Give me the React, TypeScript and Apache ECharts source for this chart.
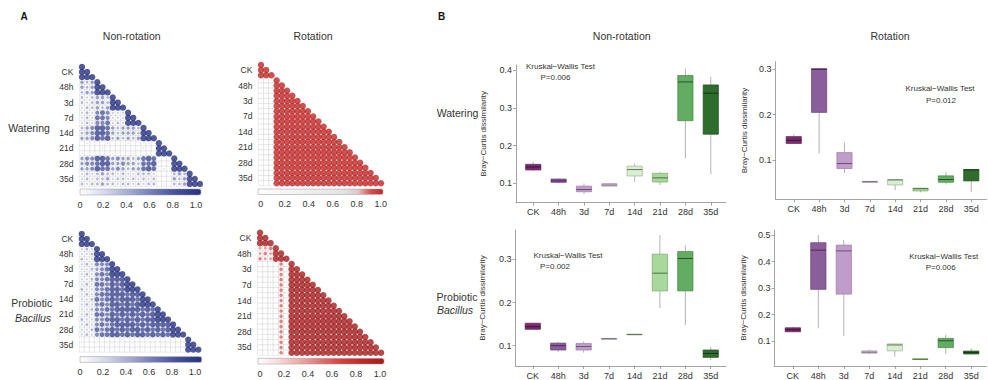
import React, { useEffect, useRef } from "react";
import * as echarts from "echarts";

// ---------- DATA ----------
const groups = ["CK", "48h", "3d", "7d", "14d", "21d", "28d", "35d"];
// 24 samples (3 replicates per group); label shown on the middle replicate
const sampleLabels = ["", "CK", "", "", "48h", "", "", "3d", "", "", "7d", "", "", "14d", "", "", "21d", "", "", "28d", "", "", "35d", ""];
const colorbarTicks = [0, 0.2, 0.4, 0.6, 0.8, 1.0];

// Panel A: lower-triangle similarity matrices, one string per row, digit d = value d/9 (spaces only for readability)
const corrNonRotWatering = [
  "9",
  "99",
  "999",
  "545 9",
  "545 99",
  "455 999",
  "434 554 9",
  "434 554 99",
  "344 545 999",
  "343 676 333 9",
  "343 776 333 99",
  "343 667 343 999",
  "456 887 545 554 9",
  "456 887 545 554 99",
  "556 878 454 545 999",
  "121 112 111 211 121 9",
  "111 121 112 111 211 99",
  "211 111 211 121 111 999",
  "566 887 565 545 787 111 9",
  "566 788 556 554 778 111 99",
  "556 877 565 455 787 121 999",
  "343 454 434 334 443 111 454 9",
  "343 445 344 343 434 111 545 99",
  "434 454 434 434 344 121 445 999",
];
const corrRotWatering = [
  "9",
  "99",
  "999",
  "223 9",
  "223 99",
  "233 999",
  "112 999 9",
  "112 999 99",
  "112 999 999",
  "111 999 999 9",
  "112 999 999 99",
  "112 999 999 999",
  "112 999 999 999 9",
  "111 999 999 999 99",
  "112 999 999 999 999",
  "112 999 999 999 999 9",
  "112 999 999 999 999 99",
  "111 999 999 999 999 999",
  "112 999 999 999 999 999 9",
  "112 999 999 999 999 999 99",
  "111 999 999 999 999 999 999",
  "112 999 999 999 999 999 999 9",
  "112 999 999 999 999 999 999 99",
  "111 999 999 999 999 999 999 999",
];
const corrNonRotBacillus = [
  "9",
  "99",
  "999",
  "343 9",
  "334 99",
  "433 999",
  "343 666 9",
  "334 567 99",
  "343 676 999",
  "334 667 888 9",
  "343 776 878 99",
  "433 667 887 999",
  "343 677 888 788 9",
  "334 767 878 887 99",
  "343 676 887 878 999",
  "334 667 788 888 787 9",
  "343 776 878 787 878 99",
  "433 667 887 878 788 999",
  "343 676 788 887 878 888 9",
  "334 767 878 788 787 878 99",
  "343 677 887 878 878 787 999",
  "111 111 111 111 111 111 111 9",
  "111 111 111 111 111 111 111 99",
  "111 111 111 111 111 111 111 999",
];
const corrRotBacillus = [
  "9",
  "99",
  "999",
  "445 9",
  "454 99",
  "544 999",
  "111 151 9",
  "111 151 99",
  "111 151 999",
  "111 151 999 9",
  "111 151 999 99",
  "111 151 999 999",
  "111 151 999 999 9",
  "111 151 999 999 99",
  "111 151 999 999 999",
  "111 151 999 999 999 9",
  "111 151 999 999 999 99",
  "111 151 999 999 999 999",
  "111 151 999 999 999 999 9",
  "111 151 999 999 999 999 99",
  "111 151 999 999 999 999 999",
  "111 151 999 999 999 999 999 9",
  "111 151 999 999 999 999 999 99",
  "111 151 999 999 999 999 999 999",
];

// Panel B: Bray-Curtis dissimilarity box stats [min, q1, median, q3, max] per group
const bcNonRotWatering = [
  [0.132, 0.135, 0.143, 0.150, 0.157],
  [0.100, 0.102, 0.106, 0.111, 0.113],
  [0.071, 0.077, 0.083, 0.092, 0.099],
  [0.091, 0.092, 0.095, 0.099, 0.100],
  [0.103, 0.119, 0.136, 0.145, 0.152],
  [0.095, 0.103, 0.114, 0.126, 0.130],
  [0.166, 0.266, 0.369, 0.386, 0.405],
  [0.124, 0.230, 0.339, 0.361, 0.383],
];
const bcRotWatering = [
  [0.136, 0.137, 0.144, 0.152, 0.157],
  [0.115, 0.205, 0.299, 0.301, 0.301],
  [0.072, 0.082, 0.093, 0.117, 0.139],
  [0.052, 0.052, 0.053, 0.054, 0.054],
  [0.035, 0.046, 0.057, 0.058, 0.058],
  [0.030, 0.033, 0.038, 0.039, 0.039],
  [0.047, 0.052, 0.058, 0.066, 0.074],
  [0.031, 0.055, 0.079, 0.080, 0.081],
];
const bcNonRotBacillus = [
  [0.137, 0.138, 0.144, 0.152, 0.153],
  [0.086, 0.090, 0.100, 0.106, 0.109],
  [0.084, 0.090, 0.098, 0.105, 0.110],
  [0.115, 0.115, 0.116, 0.117, 0.117],
  [0.125, 0.125, 0.126, 0.127, 0.127],
  [0.187, 0.227, 0.268, 0.312, 0.356],
  [0.148, 0.227, 0.302, 0.318, 0.333],
  [0.067, 0.073, 0.082, 0.090, 0.097],
];
const bcRotBacillus = [
  [0.133, 0.135, 0.142, 0.150, 0.153],
  [0.148, 0.295, 0.443, 0.471, 0.500],
  [0.119, 0.277, 0.440, 0.462, 0.481],
  [0.050, 0.054, 0.058, 0.063, 0.068],
  [0.041, 0.063, 0.085, 0.089, 0.090],
  [0.030, 0.030, 0.031, 0.033, 0.033],
  [0.051, 0.075, 0.101, 0.110, 0.123],
  [0.050, 0.051, 0.057, 0.062, 0.072],
];
const ticksNonRotWatering = [0.1, 0.2, 0.3, 0.4];
const ticksRotWatering = [0.1, 0.2, 0.3];
const ticksNonRotBacillus = [0.1, 0.2, 0.3];
const ticksRotBacillus = [0.1, 0.2, 0.3, 0.4, 0.5];

const kruskalNonRotWatering = "P=0.006";
const kruskalRotWatering = "P=0.012";
const kruskalNonRotBacillus = "P=0.002";
const kruskalRotBacillus = "P=0.006";

// ---------- STYLE ----------
const FONT = "'Liberation Sans', Arial, Helvetica, sans-serif";
const TXT = "#333";
const bluePalette = ["#ffffff", "#d6d9ec", "#a6acd2", "#737cb6", "#454f99", "#263180"];
const redSteepPalette = ["#ffffff", "#fbfbfb", "#f6f6f6", "#f2f2f2", "#eeeeee", "#eaeaea", "#e6e6e6", "#e3e0e0", "#e4c4c4", "#d85050", "#bf2626"];
const redPalette = ["#ffffff", "#f8d8d8", "#efa8a8", "#e27070", "#d44040", "#c02828", "#a41c1c"];
const boxFill = ["#7b2c6f", "#8a5d9b", "#c09ccb", "#e2d3e6", "#d9efd1", "#a9d89c", "#62ad62", "#2f6d2c"];
const boxStroke = ["#5a1f50", "#6a4178", "#9a7aa4", "#a89aaa", "#9ab592", "#76a86a", "#3f833f", "#1f4a1d"];
const boxMedian = ["#3d1236", "#4a2a55", "#6b4e74", "#6f6372", "#5f7a58", "#4b7542", "#24542a", "#16341a"];

function triangle(rows: string[]) {
  const out: number[][] = [];
  rows.forEach((raw, r) => {
    const row = raw.replace(/\s/g, "");
    for (let c = 0; c <= r; c++) {
      const ch = row.charAt(c);
      out.push([c, r, ch ? Number(ch) / 9 : 0]);
    }
  });
  return out;
}

const corrPanels = [
  { rows: corrNonRotWatering, palette: bluePalette, grid: { left: 79.4, top: 64.4, width: 123.1, height: 122.1 }, bar: { left: 80, top: 189, len: 121, thick: 6 }, axis: { left: 80, width: 116 } },
  { rows: corrRotWatering, palette: redSteepPalette, grid: { left: 258.4, top: 62.4, width: 125.2, height: 123.4 }, bar: { left: 258, top: 189, len: 125, thick: 5.5 }, axis: { left: 260.7, width: 120 } },
  { rows: corrNonRotBacillus, palette: bluePalette, grid: { left: 79.2, top: 231.5, width: 121.7, height: 120.7 }, bar: { left: 80, top: 356.6, len: 121.7, thick: 5.8 }, axis: { left: 80, width: 115 } },
  { rows: corrRotBacillus, palette: redPalette, grid: { left: 257.4, top: 230.1, width: 126.3, height: 125.2 }, bar: { left: 258, top: 358.3, len: 126, thick: 5.8 }, axis: { left: 260, width: 120 } },
];

const boxPanels = [
  { stats: bcNonRotWatering, ticks: ticksNonRotWatering, min: 0.048, max: 0.414, xMin: -0.68, grid: { left: 516, top: 65, width: 210, height: 137.7 }, nameGap: 29 },
  { stats: bcRotWatering, ticks: ticksRotWatering, min: 0.0147, max: 0.316, xMin: -0.72, grid: { left: 775.5, top: 61.7, width: 211, height: 137.6 }, nameGap: 27 },
  { stats: bcNonRotBacillus, ticks: ticksNonRotBacillus, min: 0.053, max: 0.368, xMin: -0.68, grid: { left: 515.5, top: 230, width: 210.5, height: 136 }, nameGap: 29 },
  { stats: bcRotBacillus, ticks: ticksRotBacillus, min: 0.0057, max: 0.519, xMin: -0.72, grid: { left: 774.5, top: 230, width: 212, height: 136 }, nameGap: 27 },
];

function renderBox(params: any, api: any) {
  const i = api.value(0);
  const lo = api.coord([i, api.value(1)]);
  const q1 = api.coord([i, api.value(2)]);
  const med = api.coord([i, api.value(3)]);
  const q3 = api.coord([i, api.value(4)]);
  const hi = api.coord([i, api.value(5)]);
  const w = api.size([0.6, 0])[0];
  const x = lo[0];
  const k = Math.round(i);
  return {
    type: "group",
    children: [
      { type: "line", shape: { x1: x, y1: hi[1], x2: x, y2: q3[1] }, style: { stroke: "#a0a0a0", lineWidth: 0.8 } },
      { type: "line", shape: { x1: x, y1: q1[1], x2: x, y2: lo[1] }, style: { stroke: "#a0a0a0", lineWidth: 0.8 } },
      { type: "rect", shape: { x: x - w / 2, y: q3[1], width: w, height: Math.max(q1[1] - q3[1], 0.8) }, style: { fill: boxFill[k], stroke: boxStroke[k], lineWidth: 0.7 } },
      { type: "line", shape: { x1: x - w / 2, y1: med[1], x2: x + w / 2, y2: med[1] }, style: { stroke: boxMedian[k], lineWidth: 1 } },
    ],
  };
}

function txt(text: string, x: number, y: number, size: number, extra: any = {}) {
  return {
    type: "text",
    x,
    y,
    silent: true,
    style: {
      text,
      fontSize: size,
      fontFamily: FONT,
      fill: TXT,
      align: "center",
      textAlign: "center",
      verticalAlign: "middle",
      textVerticalAlign: "middle",
      ...extra,
    },
  };
}

function buildOption() {
  const option: any = {
    animation: false,
    backgroundColor: "#ffffff",
    textStyle: { fontFamily: FONT },
    grid: [],
    xAxis: [],
    yAxis: [],
    series: [],
    visualMap: [],
    graphic: [],
  };

  corrPanels.forEach((p) => {
    const gi = option.grid.length;
    option.grid.push({ ...p.grid });
    option.xAxis.push({ type: "category", gridIndex: gi, data: sampleLabels.map((_, k) => String(k)), show: false });
    option.yAxis.push({
      type: "category",
      gridIndex: gi,
      data: sampleLabels,
      inverse: true,
      axisLine: { show: false },
      axisTick: { show: false },
      splitLine: { show: false },
      axisLabel: { interval: 0, fontSize: 8.5, color: TXT, margin: 6, fontFamily: FONT },
    });
    const cw = p.grid.width / 24;
    const ch = p.grid.height / 24;
    const tri = triangle(p.rows);
    option.series.push({
      type: "scatter",
      xAxisIndex: gi,
      yAxisIndex: gi,
      symbol: "rect",
      symbolSize: [cw, ch],
      itemStyle: { color: "#ffffff", borderColor: "#d2d2d2", borderWidth: 0.5 },
      data: tri.map((d) => [d[0], d[1]]),
      silent: true,
      z: 1,
    });
    const si = option.series.length;
    option.series.push({
      type: "scatter",
      xAxisIndex: gi,
      yAxisIndex: gi,
      symbol: "circle",
      symbolSize: (v: number[]) => Math.max(0.6, v[2] * cw * 1.22),
      data: tri,
      silent: true,
      z: 2,
    });
    option.visualMap.push({
      type: "continuous",
      seriesIndex: si,
      dimension: 2,
      min: 0,
      max: 1,
      orient: "horizontal",
      left: p.bar.left,
      top: p.bar.top,
      itemHeight: p.bar.len,
      itemWidth: p.bar.thick,
      calculable: false,
      hoverLink: false,
      padding: 0,
      inRange: { color: p.palette },
    });
    option.graphic.push({
      type: "rect",
      silent: true,
      z: 100,
      shape: { x: p.bar.left, y: p.bar.top, width: p.bar.len, height: p.bar.thick },
      style: { fill: "none", stroke: "#9a9a9a", lineWidth: 0.5 },
    });
    const cg = option.grid.length;
    option.grid.push({ left: p.axis.left, width: p.axis.width, top: p.bar.top, height: p.bar.thick });
    option.xAxis.push({
      type: "value",
      gridIndex: cg,
      min: 0,
      max: 1,
      axisLine: { show: false },
      splitLine: { show: false },
      axisTick: { show: false },
      axisLabel: {
        customValues: colorbarTicks,
        fontSize: 9,
        color: TXT,
        margin: 5,
        fontFamily: FONT,
        formatter: (v: number) => (v === 0 ? "0" : v.toFixed(1)),
      },
    });
    option.yAxis.push({ type: "value", gridIndex: cg, show: false, min: 0, max: 1 });
  });

  boxPanels.forEach((p) => {
    const gi = option.grid.length;
    option.grid.push({ ...p.grid });
    option.xAxis.push({
      type: "value",
      gridIndex: gi,
      min: p.xMin,
      max: 7.6,
      axisLine: { show: true, onZero: false, lineStyle: { color: "#8e8e8e", width: 0.8 } },
      axisTick: { show: true, length: 3, customValues: groups.map((_, k) => k), lineStyle: { color: "#8e8e8e", width: 0.8 } },
      axisLabel: { customValues: groups.map((_, k) => k), formatter: (v: number) => groups[Math.round(v)] ?? "", fontSize: 9, color: TXT, margin: 5, fontFamily: FONT },
      splitLine: { show: false },
    });
    option.yAxis.push({
      type: "value",
      gridIndex: gi,
      min: p.min,
      max: p.max,
      axisLine: { show: true, onZero: false, lineStyle: { color: "#8e8e8e", width: 0.8 } },
      axisTick: { show: true, length: 3, customValues: p.ticks, lineStyle: { color: "#8e8e8e", width: 0.8 } },
      axisLabel: { customValues: p.ticks, fontSize: 9, color: TXT, margin: 4, fontFamily: FONT },
      splitLine: { show: false },
      name: "Bray\u2212Curtis dissimilarity",
      nameLocation: "middle",
      nameGap: p.nameGap,
      nameTextStyle: { fontSize: 8, color: TXT, fontFamily: FONT },
    });
    option.series.push({
      type: "custom",
      xAxisIndex: gi,
      yAxisIndex: gi,
      renderItem: renderBox,
      encode: { x: 0, y: [1, 2, 3, 4, 5] },
      data: p.stats.map((s, k) => [k, ...s]),
      silent: true,
      clip: false,
    });
  });

  option.graphic.push(
    txt("A", 24, 16.5, 10, { fontWeight: "bold", fill: "#111" }),
    txt("B", 441.5, 16.5, 10, { fontWeight: "bold", fill: "#111" }),
    txt("Non-rotation", 131.7, 36, 10.5),
    txt("Rotation", 313, 36, 10.5),
    txt("Non-rotation", 621.7, 35.7, 10.5),
    txt("Rotation", 890, 35.7, 10.5),
    txt("Watering", 29, 127.7, 10.5),
    txt("Probiotic", 31.7, 303.3, 10.5),
    txt("Bacillus", 33, 317.7, 10.5, { fontStyle: "italic" }),
    txt("Watering", 457.5, 113.3, 10.5),
    txt("Probiotic", 457, 296.7, 10.5),
    txt("Bacillus", 455, 309.5, 10.5, { fontStyle: "italic" }),
    txt("Kruskal\u2212Wallis Test", 560.5, 66, 8),
    txt(kruskalNonRotWatering, 555.5, 77.3, 8),
    txt("Kruskal\u2212Wallis Test", 940, 88.3, 8),
    txt(kruskalRotWatering, 941, 100, 8),
    txt("Kruskal\u2212Wallis Test", 568, 255, 8),
    txt(kruskalNonRotBacillus, 555, 266.7, 8),
    txt("Kruskal\u2212Wallis Test", 943.7, 256, 8),
    txt(kruskalRotBacillus, 940.7, 267.3, 8)
  );

  return option;
}

export default function App() {
  const ref = useRef<HTMLDivElement>(null);
  useEffect(() => {
    if (!ref.current) return;
    const chart = echarts.init(ref.current, undefined, { renderer: "svg" });
    chart.setOption(buildOption());
    return () => {
      chart.dispose();
    };
  }, []);
  return (
    <div
      ref={ref}
      style={{ position: "absolute", left: 0, top: 0, width: 988, height: 380, background: "#fff" }}
    />
  );
}
